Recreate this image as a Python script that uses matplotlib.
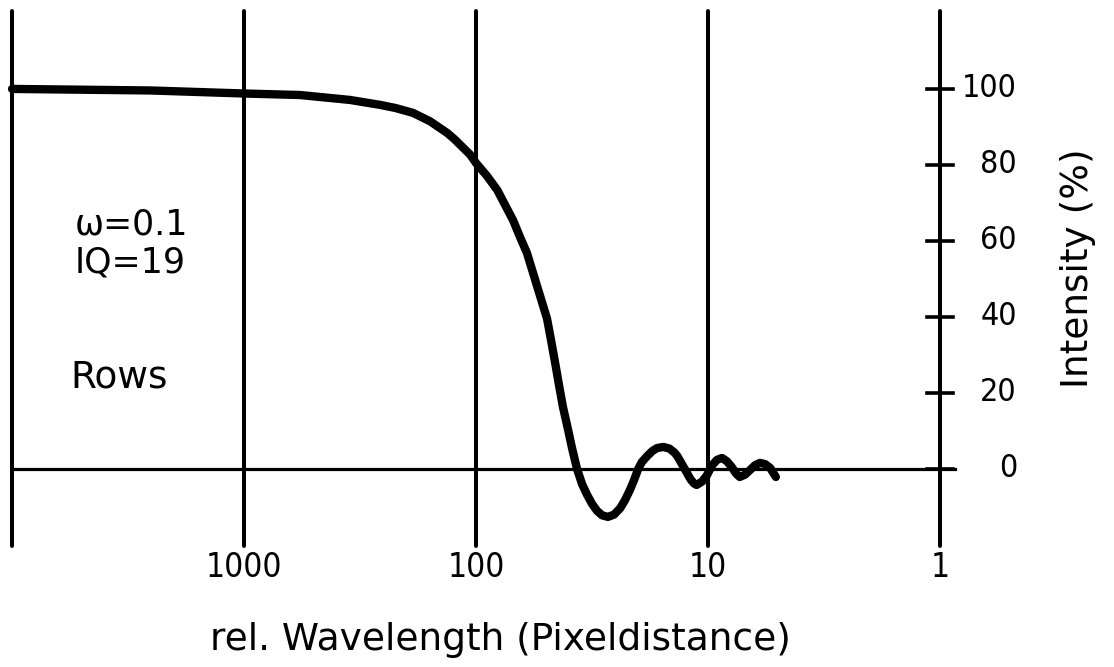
import matplotlib
matplotlib.use("Agg")
import matplotlib.pyplot as plt

# curve: wavelength (pixel distance) vs intensity (%)
wavelength = [10000, 2540, 1000, 574, 349, 259, 223, 187, 158, 133, 123, 114, 106,
              100, 89.7, 81, 75, 69.3, 64.6, 60.3, 56.8, 53.0, 49.4, 47.5, 45.6,
              43.9, 42.2, 40.1, 38.6, 36.7, 34.9, 33.2, 31.6, 30.1, 28.6, 27.0,
              25.4, 23.9, 22.8, 21.7, 20.8, 20.0, 19.3, 18.3, 17.4, 16.6, 15.6,
              14.7, 14.0, 13.6, 13.1, 12.6, 11.9, 11.5, 11.2, 10.6, 10.1, 9.6,
              9.15, 8.7, 8.28, 7.9, 7.57, 7.3, 6.93, 6.6, 6.27, 5.97, 5.68, 5.4, 5.1]
intensity = [100, 99.6, 98.8, 98.4, 97.1, 95.8, 95.0, 93.7, 91.5, 88.4, 86.6, 84.6, 82.7,
             80.5, 77.1, 73.4, 69.5, 65.5, 61.0, 56.8, 51.6, 45.6, 39.5, 33.9, 27.9,
             22.1, 16.3, 10.3, 5.6, 0, -4.0, -6.8, -9.2, -11.0, -12.2, -12.6,
             -12.0, -10.3, -8.2, -5.5, -2.8, 0, 1.8, 3.4, 4.7, 5.5, 5.8,
             5.4, 4.4, 3.5, 1.8, 0, -2.7, -3.8, -4.2, -3.3, -1.6, 1.0,
             2.4, 2.9, 2.0, 0.5, -1.2, -2.1, -1.5, -0.3, 1.0, 1.6, 1.3, 0.3, -2.1]

x_grid = [10000, 1000, 100, 10, 1]
x_labels = ["", "1000", "100", "10", "1"]
y_ticks = [0, 20, 40, 60, 80, 100]

fig = plt.figure(figsize=(11.14, 6.67), dpi=100)
ax = fig.add_axes([0, 0, 1, 1])
ax.set_xscale('log')
ax.set_xlim(10**4.052, 10**-0.75)   # reversed log axis, 1 decade ~ 232 px
ax.set_ylim(-52.1, 123.4)
ax.axis('off')

# vertical grid lines
for xv in x_grid:
    ax.plot([xv, xv], [-20.3, 120.5], color='black', lw=2.9, solid_capstyle='round')

# zero line
ax.plot([10000, 0.86], [0, 0], color='black', lw=2.3)

# tick marks on the right axis (at x=1)
for yv in y_ticks:
    ax.plot([1.14, 0.88], [yv, yv], color='black', lw=2.6)
    ax.text(0.466, yv, str(yv), ha='right', va='center', fontsize=23,
            family='DejaVu Sans', fontstretch='condensed')

# bottom labels
for xv, lab in zip(x_grid, x_labels):
    ax.text(xv, -26, lab, ha='center', va='center', fontsize=24,
            family='DejaVu Sans', fontstretch='condensed')

# the curve
ax.plot(wavelength, intensity, color='black', lw=6, solid_capstyle='round',
        solid_joinstyle='round')

ax.text(5350, 64.2, "ω=0.1", ha='left', va='center', fontsize=25)
ax.text(5350, 54.2, "IQ=19", ha='left', va='center', fontsize=25)
ax.text(5620, 24.2, "Rows", ha='left', va='center', fontsize=27)

ax.text(0.254, 52.9, "Intensity (%)", rotation=90, ha='center', va='center', fontsize=27)
ax.text(78.8, -45, "rel. Wavelength (Pixeldistance)", ha='center', va='center', fontsize=27)

plt.savefig('out.png', dpi=100)
